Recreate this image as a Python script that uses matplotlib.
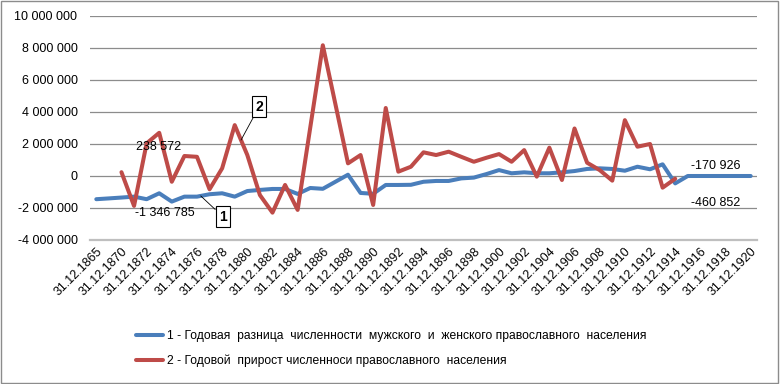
import matplotlib
matplotlib.use("Agg")
import matplotlib.pyplot as plt
import numpy as np
from matplotlib.patches import Rectangle
from matplotlib.ticker import FuncFormatter

plt.rcParams['font.family'] = ['Liberation Sans', 'DejaVu Sans']

years = [1865, 1869] + list(range(1870, 1921))
categories = ["31.12.%d" % y for y in years]

# 1 - difference between male and female orthodox population
diff_mf = [
    -1450000, -1400000, -1346785, -1290000, -1450000, -1080000, -1600000,
    -1290000, -1290000, -1140000, -1080000, -1290000, -940000, -870000,
    -810000, -810000, -1120000, -750000, -800000, -360000, 80000,
    -1060000, -1110000, -560000, -560000, -550000, -360000, -310000,
    -310000, -150000, -100000, 120000, 370000, 170000, 230000, 170000,
    170000, 230000, 310000, 440000, 480000, 440000, 330000, 580000,
    420000, 730000, -460852, 0, 0, 0, 0, 0, 0,
]

# 2 - annual growth of orthodox population
growth = [
    np.nan, np.nan, 238572, -1870000, 2040000, 2700000, -360000, 1250000,
    1200000, -830000, 480000, 3180000, 1310000, -1190000, -2290000,
    -560000, -2120000, 3020000, 8170000, 4490000, 790000, 1310000,
    -1810000, 4250000, 270000, 580000, 1480000, 1310000, 1520000,
    1200000, 890000, 1140000, 1370000, 890000, 1620000, -40000, 1770000,
    -250000, 2970000, 830000, 370000, -290000, 3490000, 1830000, 2000000,
    -730000, -170926, np.nan, np.nan, np.nan, np.nan, np.nan, np.nan,
]

labels = [
    "1 - Годовая  разница  численности  мужского  и  женского православного  населения",
    "2 - Годовой  прирост численноси православного  населения",
]

blue = "#4A7EBB"
red = "#BE4B48"

fig = plt.figure(figsize=(7.8, 3.84), dpi=100)
ax = fig.add_axes([90 / 780, 1 - 240 / 384, 667 / 780, 224 / 384])

x = np.arange(len(categories))
ax.plot(x, diff_mf, color=blue, lw=2.9, solid_joinstyle='round',
        solid_capstyle='round', label=labels[0], zorder=3)
ax.plot(x, growth, color=red, lw=2.9, solid_joinstyle='round',
        solid_capstyle='round', label=labels[1], zorder=4)

ax.set_xlim(-0.5, len(categories) - 0.5)
ax.set_ylim(-4000000, 10000000)
ax.set_yticks(np.arange(-4000000, 10000001, 2000000))
ax.yaxis.set_major_formatter(FuncFormatter(lambda v, p: "{:,}".format(int(v)).replace(",", " ")))
ax.grid(axis='y', color='#8c8c8c', lw=0.9)
ax.set_axisbelow(True)
for s in ['top', 'right', 'left']:
    ax.spines[s].set_visible(False)
ax.spines['bottom'].set_color('#bfbfbf')
ax.spines['bottom'].set_linewidth(1.6)

ax.set_xticks(x[::2])
ax.set_xticklabels(categories[::2], rotation=45, ha='right',
                   rotation_mode='anchor', fontsize=9)
ax.tick_params(axis='x', length=0, pad=4)
ax.tick_params(axis='y', length=0, pad=9, labelsize=9)

# data labels
i70 = years.index(1870)
i14 = years.index(1914)
lab = dict(textcoords='offset points', ha='center', va='center', fontsize=9, zorder=6)
ax.annotate("238 572", (x[i70], growth[i70]), xytext=(27, 18), **lab)
ax.annotate("-1 346 785", (x[i70], diff_mf[i70]), xytext=(31, -11), **lab)
ax.annotate("-170 926", (x[i14], growth[i14]), xytext=(29, 9), **lab)
ax.annotate("-460 852", (x[i14], diff_mf[i14]), xytext=(29, -14), **lab)

# numbered callouts
box = dict(boxstyle='square,pad=0.25', fc='white', ec='black', lw=0.8)
arrow = dict(arrowstyle='-', color='black', lw=0.6, shrinkA=0, shrinkB=0)
p1 = 8.3
ax.annotate("1", (p1, np.interp(p1, x, diff_mf)), xytext=(16, -15),
            textcoords='offset points', ha='center', va='center',
            fontsize=10, fontweight='bold', bbox=box, arrowprops=arrow, zorder=6)
p2 = 11.5
ax.annotate("2", (p2, np.interp(p2, x[2:48], np.array(growth[2:48]))), xytext=(13, 24),
            textcoords='offset points', ha='center', va='center',
            fontsize=10, fontweight='bold', bbox=box, arrowprops=arrow, zorder=6)

fig.legend(loc='upper left', bbox_to_anchor=(136 / 780, 1 - 330 / 384),
           frameon=False, fontsize=8.7, handlelength=2.2, handletextpad=0.35,
           labelspacing=1.05, borderpad=0, borderaxespad=0)

fig.patches.append(Rectangle((0.001, 0.002), 0.997, 0.995, transform=fig.transFigure,
                             fill=False, ec='#8c8c8c', lw=1))

fig.savefig("out.png", dpi=100)
